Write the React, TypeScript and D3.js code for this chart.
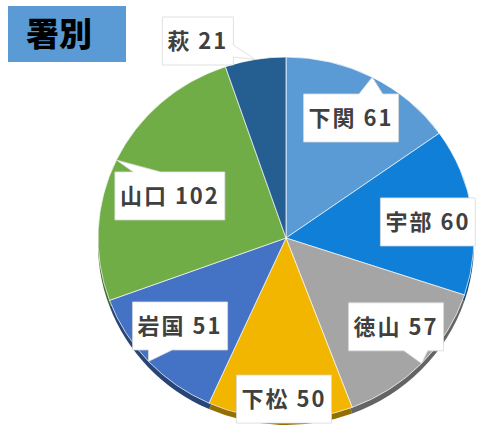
import React, { useEffect, useRef } from 'react';
import * as d3 from 'd3';

const stations = ['下関', '宇部', '徳山', '下松', '岩国', '山口', '萩'];
const counts = [61, 60, 57, 50, 51, 102, 21];
const sliceColors = ['#5b9bd5', '#0f7fd7', '#a5a5a5', '#f2b600', '#4472c4', '#70ad47', '#255e91'];
const title = '署別';

// label layout: angle nudge from slice middle (deg), radius as share of R
const labelNudge = [0.25, 1.8, -3.9, -1.1, 2.2, -4.9, -13.9];
const labelRadius = [0.748, 0.76, 0.764, 0.89, 0.744, 0.66, 1.185];

const W = 501;
const H = 435;

function calloutPath(x0: number, y0: number, w: number, h: number, tx: number, ty: number) {
  const x1 = x0 + w;
  const y1 = y0 + h;
  const dx = tx - (x0 + w / 2);
  const dy = ty - (y0 + h / 2);
  const inside = tx > x0 && tx < x1 && ty > y0 && ty < y1;
  let pts: [number, number][];
  if (inside) {
    pts = [[x0, y0], [x1, y0], [x1, y1], [x0, y1]];
  } else if (Math.abs(dy) > Math.abs(dx * h / w)) {
    const xa = dx > 0 ? x0 + w * 7 / 12 : x0 + w * 2 / 12;
    const xb = dx > 0 ? x0 + w * 10 / 12 : x0 + w * 5 / 12;
    pts = dy < 0
      ? [[x0, y0], [xa, y0], [tx, ty], [xb, y0], [x1, y0], [x1, y1], [x0, y1]]
      : [[x0, y0], [x1, y0], [x1, y1], [xb, y1], [tx, ty], [xa, y1], [x0, y1]];
  } else {
    const ya = dy > 0 ? y0 + h * 7 / 12 : y0 + h * 2 / 12;
    const yb = dy > 0 ? y0 + h * 10 / 12 : y0 + h * 5 / 12;
    pts = dx < 0
      ? [[x0, y0], [x1, y0], [x1, y1], [x0, y1], [x0, yb], [tx, ty], [x0, ya]]
      : [[x0, y0], [x1, y0], [x1, ya], [tx, ty], [x1, yb], [x1, y1], [x0, y1]];
  }
  return 'M' + pts.map(p => p.join(',')).join('L') + 'Z';
}

const App: React.FC = () => {
  const svgRef = useRef<SVGSVGElement>(null);

  useEffect(() => {
    if (!svgRef.current) return;
    const svg = d3.select(svgRef.current);
    svg.selectAll('*').remove();

    svg.append('rect').attr('width', W).attr('height', H).attr('fill', '#ffffff');

    // title box
    svg.append('rect')
      .attr('x', 8).attr('y', 6).attr('width', 118).attr('height', 56)
      .attr('fill', '#5b9bd5');
    svg.append('text')
      .attr('x', 26).attr('y', 46)
      .attr('font-family', '"Noto Sans CJK JP", sans-serif')
      .attr('font-size', '33px')
      .attr('font-weight', '900')
      .attr('fill', '#000000')
      .text(title);

    const cx = 286;
    const cy = 238;
    const R = 181;
    const sx = 188 / 181;

    const pie = d3.pie<number>().sort(null).value(d => d);
    const arcs = pie(counts);
    const arc = d3.arc<d3.PieArcDatum<number>>().innerRadius(0).outerRadius(R);

    // thin 3D edge underneath
    const depth = svg.append('g').attr('transform', `translate(${cx},${cy + 6}) scale(${sx},1)`);
    depth.selectAll('path')
      .data(arcs)
      .enter()
      .append('path')
      .attr('d', arc)
      .attr('fill', (d, i) => d3.color(sliceColors[i])!.darker(1.4).toString());

    const face = svg.append('g').attr('transform', `translate(${cx},${cy}) scale(${sx},1)`);
    face.selectAll('path')
      .data(arcs)
      .enter()
      .append('path')
      .attr('d', arc)
      .attr('fill', (d, i) => sliceColors[i])
      .attr('stroke', '#ffffff')
      .attr('stroke-opacity', 0.7)
      .attr('stroke-width', 1)
      .attr('vector-effect', 'non-scaling-stroke');

    // callout labels
    const labels = svg.append('g');
    arcs.forEach((a, i) => {
      const mid = (a.startAngle + a.endAngle) / 2;
      const la = mid + labelNudge[i] * Math.PI / 180;
      const r = labelRadius[i] * R;
      const lx = cx + sx * r * Math.sin(la);
      const ly = cy - r * Math.cos(la);
      const tx = cx + sx * R * Math.sin(mid);
      const ty = cy - R * Math.cos(mid);

      const g = labels.append('g');
      const path = g.append('path');
      const txt = g.append('text')
        .attr('x', lx)
        .attr('y', ly)
        .attr('dy', '0.36em')
        .attr('text-anchor', 'middle')
        .attr('font-family', '"Noto Sans CJK JP", sans-serif')
        .attr('font-size', '22px')
        .attr('font-weight', '700')
        .attr('letter-spacing', '2px')
        .attr('fill', '#404040')
        .text(`${stations[i]} ${counts[i]}`);
      const tw = (txt.node() as SVGTextElement).getComputedTextLength();
      const w = tw + 10;
      const h = 48;
      path
        .attr('d', calloutPath(lx - w / 2, ly - h / 2, w, h, tx, ty))
        .attr('fill', '#ffffff')
        .attr('stroke', '#d9d9d9')
        .attr('stroke-width', 0.8);
    });
  }, []);

  return (
    <div style={{ position: 'fixed', left: 0, top: 0 }}>
      <svg ref={svgRef} width={W} height={H} style={{ display: 'block' }} />
    </div>
  );
};

export default App;
